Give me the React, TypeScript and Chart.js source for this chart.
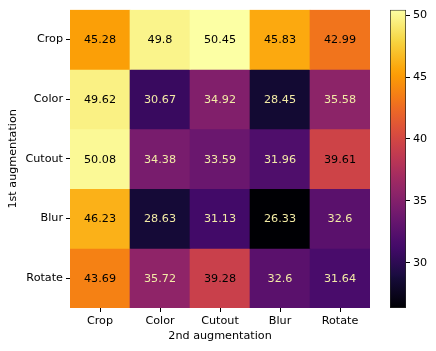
import React, { useEffect, useRef } from 'react';
import { Chart, registerables } from 'chart.js';

Chart.register(...registerables);

const rowLabels = ['Crop', 'Color', 'Cutout', 'Blur', 'Rotate'];
const colLabels = ['Crop', 'Color', 'Cutout', 'Blur', 'Rotate'];

const rowCrop = [45.28, 49.8, 50.45, 45.83, 42.99];
const rowColor = [49.62, 30.67, 34.92, 28.45, 35.58];
const rowCutout = [50.08, 34.38, 33.59, 31.96, 39.61];
const rowBlur = [46.23, 28.63, 31.13, 26.33, 32.6];
const rowRotate = [43.69, 35.72, 39.28, 32.6, 31.64];
const values = [rowCrop, rowColor, rowCutout, rowBlur, rowRotate];

const colorbarTicks = [30, 35, 40, 45, 50];
const xTitle = '2nd augmentation';
const yTitle = '1st augmentation';

// inferno colormap samples at k/9 and k/10
const INF9 = ['#000004', '#1b0c41', '#4a0c6b', '#781c6d', '#a52c60', '#cf4446', '#ed6925', '#fb9b06', '#f7d13d', '#fcffa4'];
const INF10 = ['#000004', '#160b39', '#420a68', '#6a176e', '#932667', '#bc3754', '#dd513a', '#f37819', '#fca50a', '#f6d746', '#fcffa4'];
const STOPS: [number, string][] = [
  ...INF9.map((c, k) => [k / 9, c] as [number, string]),
  ...INF10.slice(1, 10).map((c, k) => [(k + 1) / 10, c] as [number, string]),
].sort((a, b) => a[0] - b[0]);

const all = values.flat();
const vmin = Math.min(...all);
const vmax = Math.max(...all);
const mid = (vmin + vmax) / 2;

function hexToRgb(h: string) {
  return [parseInt(h.slice(1, 3), 16), parseInt(h.slice(3, 5), 16), parseInt(h.slice(5, 7), 16)];
}
function colorFor(v: number) {
  const t = Math.max(0, Math.min(1, (v - vmin) / (vmax - vmin)));
  let i = 0;
  while (i < STOPS.length - 2 && STOPS[i + 1][0] < t) i++;
  const [t0, c0] = STOPS[i];
  const [t1, c1] = STOPS[i + 1];
  const f = t1 > t0 ? (t - t0) / (t1 - t0) : 0;
  const a = hexToRgb(c0);
  const b = hexToRgb(c1);
  const c = a.map((x, k) => Math.round(x + (b[k] - x) * f));
  return `rgb(${c[0]},${c[1]},${c[2]})`;
}

const FONT = { family: '"DejaVu Sans", sans-serif', size: 11.2 };

const cellLabels = {
  id: 'cellLabels',
  afterDatasetsDraw(chart: any) {
    const ctx = chart.ctx;
    ctx.save();
    ctx.font = '11.2px "DejaVu Sans", sans-serif';
    ctx.textAlign = 'center';
    ctx.textBaseline = 'middle';
    chart.data.datasets.forEach((ds: any, i: number) => {
      const meta = chart.getDatasetMeta(i);
      meta.data.forEach((el: any, j: number) => {
        const v = values[i][j];
        const { x, y, base } = el.getProps(['x', 'y', 'base'], true);
        ctx.fillStyle = v > mid ? '#000000' : '#f3eba6';
        ctx.fillText(String(v), x, (y + base) / 2 + 1);
      });
    });
    ctx.restore();
  },
};

export default function App() {
  const mainRef = useRef<HTMLCanvasElement>(null);
  const cbRef = useRef<HTMLCanvasElement>(null);

  useEffect(() => {
    const main = new Chart(mainRef.current!, {
      type: 'bar',
      data: {
        labels: colLabels,
        datasets: rowLabels.map((r, i) => ({
          label: r,
          data: colLabels.map(() => 1),
          backgroundColor: values[i].map(colorFor),
          borderWidth: 0,
          barPercentage: 1,
          categoryPercentage: 1,
        })),
      },
      options: {
        responsive: false,
        animation: false,
        layout: { padding: { left: 0, right: 66, top: 8, bottom: 0 } },
        plugins: { legend: { display: false }, tooltip: { enabled: false } },
        scales: {
          x: {
            stacked: true,
            afterFit: (s: any) => { s.height = 43; },
            grid: { offset: false, drawOnChartArea: false, tickLength: 4, color: '#000', lineWidth: 1 },
            border: { display: false },
            ticks: { color: '#000', font: FONT, padding: 2, maxRotation: 0 },
            title: { display: true, text: xTitle, color: '#000', font: FONT, padding: { top: 0, bottom: 8 } },
          },
          y: {
            stacked: true,
            reverse: true,
            min: 0,
            max: 5,
            afterFit: (s: any) => { s.width = 70; },
            afterBuildTicks: (s: any) => { s.ticks = rowLabels.map((_, i) => ({ value: i + 0.5 })); },
            grid: { drawOnChartArea: false, tickLength: 4, color: '#000', lineWidth: 1 },
            border: { display: false },
            ticks: {
              color: '#000',
              font: FONT,
              padding: 3,
              callback: (v: any) => rowLabels[Math.floor(Number(v))],
            },
            title: { display: true, text: yTitle, color: '#000', font: FONT, padding: { top: 6, bottom: 0 } },
          },
        },
      },
      plugins: [cellLabels],
    });

    const cb = new Chart(cbRef.current!, {
      type: 'bar',
      data: {
        labels: [''],
        datasets: [{
          data: [[vmin, vmax]] as any,
          backgroundColor: (c: any) => {
            const chart = c.chart;
            if (!chart.chartArea || !chart.scales.y) return STOPS[0][1];
            const y0 = chart.scales.y.getPixelForValue(vmin);
            const y1 = chart.scales.y.getPixelForValue(vmax);
            const g = chart.ctx.createLinearGradient(0, y0, 0, y1);
            STOPS.forEach(([t, col]) => g.addColorStop(t, col));
            return g;
          },
          borderColor: '#222',
          borderWidth: 1,
          borderSkipped: false,
          barPercentage: 1,
          categoryPercentage: 1,
        }],
      },
      options: {
        responsive: false,
        animation: false,
        layout: { padding: { left: 390, right: 0, top: 8, bottom: 43 } },
        plugins: { legend: { display: false }, tooltip: { enabled: false } },
        scales: {
          x: { display: false },
          y: {
            position: 'right',
            min: vmin,
            max: vmax,
            afterFit: (s: any) => { s.width = 30; },
            afterBuildTicks: (s: any) => { s.ticks = colorbarTicks.map((v) => ({ value: v })); },
            grid: { drawOnChartArea: false, tickLength: 4, color: '#000', lineWidth: 1 },
            border: { display: false },
            ticks: { color: '#000', font: FONT, padding: 3 },
          },
        },
      },
    });

    return () => { main.destroy(); cb.destroy(); };
  }, []);

  return (
    <div style={{ position: 'absolute', left: 0, top: 0, width: 436, height: 351, background: '#fff' }}>
      <canvas ref={mainRef} width={436} height={351} style={{ position: 'absolute', left: 0, top: 0, width: 436, height: 351 }} />
      <canvas ref={cbRef} width={436} height={351} style={{ position: 'absolute', left: 0, top: 0, width: 436, height: 351 }} />
    </div>
  );
}
